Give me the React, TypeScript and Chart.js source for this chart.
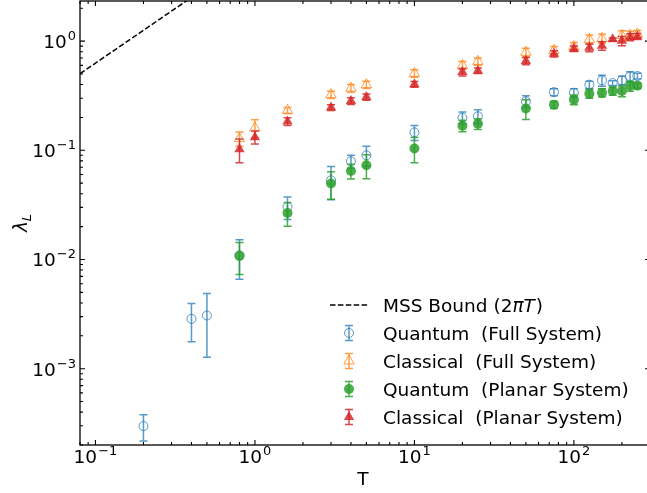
import React, { useEffect, useRef } from "react";
import { Chart, registerables } from "chart.js";

Chart.register(...registerables);

// ---------------- data ----------------
const tQuantumFull = [0.2, 0.4, 0.5, 0.8, 1.6, 3, 4, 5, 10, 20, 25, 50, 75, 100, 125, 150, 175, 200, 225, 250];
const quantumFull = [0.000298, 0.00286, 0.00307, 0.0109, 0.0303, 0.0532, 0.0793, 0.09, 0.146, 0.199, 0.205, 0.281, 0.341, 0.337, 0.399, 0.437, 0.413, 0.437, 0.475, 0.479];
const quantumFullErr = [0.00008, 0.0011, 0.0018, 0.0043, 0.007, 0.018, 0.011, 0.019, 0.023, 0.025, 0.03, 0.035, 0.025, 0.03, 0.03, 0.05, 0.02, 0.04, 0.05, 0.03];

const tClassicalFull = [0.8, 1, 1.6, 3, 4, 5, 10, 20, 25, 50, 75, 100, 125, 150, 200, 225, 250];
const classicalFull = [0.128, 0.16, 0.232, 0.323, 0.371, 0.399, 0.506, 0.6, 0.652, 0.79, 0.822, 0.89, 1.036, 1.055, 1.125, 1.13, 1.16];
const classicalFullErr = [0.019, 0.03, 0.015, 0.025, 0.03, 0.03, 0.04, 0.05, 0.05, 0.07, 0.07, 0.08, 0.1, 0.1, 0.12, 0.1, 0.09];

const tQuantumPlanar = [0.8, 1.6, 3, 4, 5, 10, 20, 25, 50, 75, 100, 125, 150, 175, 200, 225, 250];
const quantumPlanar = [0.0108, 0.0267, 0.0496, 0.0647, 0.0729, 0.104, 0.168, 0.175, 0.241, 0.262, 0.291, 0.33, 0.337, 0.349, 0.349, 0.388, 0.391];
const quantumPlanarErr = [0.0035, 0.0065, 0.014, 0.01, 0.018, 0.027, 0.02, 0.02, 0.05, 0.02, 0.03, 0.03, 0.03, 0.03, 0.04, 0.04, 0.02];

const tClassicalPlanar = [0.8, 1, 1.6, 3, 4, 5, 10, 20, 25, 50, 75, 100, 125, 150, 175, 200, 225, 250];
const classicalPlanar = [0.102, 0.132, 0.184, 0.246, 0.283, 0.307, 0.402, 0.52, 0.536, 0.656, 0.767, 0.852, 0.87, 0.905, 1.04, 1.005, 1.09, 1.105];
const classicalPlanarErr = [0.025, 0.018, 0.015, 0.015, 0.02, 0.02, 0.025, 0.04, 0.03, 0.05, 0.05, 0.05, 0.07, 0.08, 0.03, 0.1, 0.08, 0.07];

// MSS bound lambda = 2*pi*T, endpoints
const mssT = [0.05, 1];
const mssLambda = [0.31416, 6.28319];

const seriesLabels = [
  "Quantum  (Full System)",
  "Classical  (Full System)",
  "Quantum  (Planar System)",
  "Classical  (Planar System)",
];

const xMin = 0.08;
const xMax = 300;
const yMin = 2.0e-4;
const yMax = 2.33;

const xDecades = [-2, -1, 0, 1, 2, 3];
const yDecades = [-4, -3, -2, -1, 0, 1];

// ---------------- styles ----------------
const FONT = "'DejaVu Sans', sans-serif";
const FS = 18.5;
const FSS = 13;
const BLUE = "rgba(31,119,180,0.75)";
const ORANGE = "rgba(255,127,14,0.75)";
const GREEN = "rgba(44,160,44,0.85)";
const RED = "rgba(214,39,40,0.85)";

const supMap: Record<string, string> = { "-": "\u2212" };

function drawPow(ctx: CanvasRenderingContext2D, exp: number, x: number, y: number, align: "center" | "right") {
  const expStr = String(exp).split("").map((c) => supMap[c] || c).join("");
  ctx.font = `${FS}px ${FONT}`;
  const wb = ctx.measureText("10").width;
  ctx.font = `${FSS}px ${FONT}`;
  const we = ctx.measureText(expStr).width;
  const total = wb + we + 1;
  const x0 = align === "center" ? x - total / 2 : x - total;
  ctx.textAlign = "left";
  ctx.textBaseline = "alphabetic";
  ctx.font = `${FS}px ${FONT}`;
  ctx.fillText("10", x0, y);
  ctx.font = `${FSS}px ${FONT}`;
  ctx.fillText(expStr, x0 + wb + 1, y - 8);
}

function drawErrHandle(ctx: CanvasRenderingContext2D, x: number, y: number, color: string, style: string, filled: boolean) {
  ctx.save();
  ctx.strokeStyle = color;
  ctx.fillStyle = color;
  ctx.lineWidth = 1.5;
  ctx.beginPath();
  ctx.moveTo(x, y - 7.5);
  ctx.lineTo(x, y + 7.5);
  ctx.moveTo(x - 4, y - 7.5);
  ctx.lineTo(x + 4, y - 7.5);
  ctx.moveTo(x - 4, y + 7.5);
  ctx.lineTo(x + 4, y + 7.5);
  ctx.stroke();
  ctx.beginPath();
  if (style === "circle") {
    ctx.arc(x, y, filled ? 5 : 4.5, 0, Math.PI * 2);
  } else {
    const r = 6;
    ctx.moveTo(x, y - r);
    ctx.lineTo(x + r * 0.866, y + r * 0.5);
    ctx.lineTo(x - r * 0.866, y + r * 0.5);
    ctx.closePath();
  }
  if (filled) ctx.fill();
  else {
    ctx.lineWidth = 1;
    ctx.stroke();
  }
  ctx.restore();
}

const errorBarPlugin = {
  id: "errorBars",
  beforeDatasetDraw(chart: any, args: any) {
    const ds = chart.data.datasets[args.index];
    if (!ds.errors) return;
    const ctx: CanvasRenderingContext2D = chart.ctx;
    const xs = chart.scales.x;
    const ys = chart.scales.y;
    const a = chart.chartArea;
    ctx.save();
    ctx.beginPath();
    ctx.rect(a.left, a.top, a.right - a.left, a.bottom - a.top);
    ctx.clip();
    ctx.strokeStyle = ds.errColor;
    ctx.lineWidth = 1.5;
    ds.data.forEach((p: any, i: number) => {
      const e = ds.errors[i];
      const x = xs.getPixelForValue(p.x);
      const yt = ys.getPixelForValue(p.y + e);
      const yb = ys.getPixelForValue(Math.max(p.y - e, 1e-9));
      ctx.beginPath();
      ctx.moveTo(x, yt);
      ctx.lineTo(x, yb);
      ctx.moveTo(x - 4, yt);
      ctx.lineTo(x + 4, yt);
      ctx.moveTo(x - 4, yb);
      ctx.lineTo(x + 4, yb);
      ctx.stroke();
    });
    ctx.restore();
  },
};

const axesPlugin = {
  id: "mplAxes",
  afterDraw(chart: any) {
    const ctx: CanvasRenderingContext2D = chart.ctx;
    const xs = chart.scales.x;
    const ys = chart.scales.y;
    const a = chart.chartArea;
    ctx.save();
    ctx.strokeStyle = "#000";
    ctx.fillStyle = "#000";
    ctx.lineWidth = 1.3;
    // spines
    ctx.strokeRect(a.left, a.top, a.right - a.left, a.bottom - a.top);
    // ticks
    ctx.lineWidth = 1.1;
    ctx.beginPath();
    xDecades.forEach((d) => {
      for (let m = 1; m <= 9; m++) {
        const v = m * Math.pow(10, d);
        if (v < xMin || v > xMax) continue;
        const px = xs.getPixelForValue(v);
        const len = m === 1 ? 5 : 3;
        ctx.moveTo(px, a.bottom);
        ctx.lineTo(px, a.bottom - len);
        ctx.moveTo(px, a.top);
        ctx.lineTo(px, a.top + len);
      }
    });
    yDecades.forEach((d) => {
      for (let m = 1; m <= 9; m++) {
        const v = m * Math.pow(10, d);
        if (v < yMin || v > yMax) continue;
        const py = ys.getPixelForValue(v);
        const len = m === 1 ? 5 : 3;
        ctx.moveTo(a.left, py);
        ctx.lineTo(a.left + len, py);
        ctx.moveTo(a.right, py);
        ctx.lineTo(a.right - len, py);
      }
    });
    ctx.stroke();
    // tick labels
    xDecades.forEach((d) => {
      const v = Math.pow(10, d);
      if (v < xMin || v > xMax) return;
      drawPow(ctx, d, xs.getPixelForValue(v), a.bottom + 18, "center");
    });
    yDecades.forEach((d) => {
      const v = Math.pow(10, d);
      if (v < yMin || v > yMax) return;
      drawPow(ctx, d, a.left - 4, ys.getPixelForValue(v) + 7, "right");
    });
    // axis titles
    ctx.font = `${FS}px ${FONT}`;
    ctx.textAlign = "center";
    ctx.textBaseline = "alphabetic";
    ctx.fillText("T", (a.left + 646) / 2, 485);
    ctx.save();
    ctx.translate(27, (a.top + a.bottom) / 2);
    ctx.rotate(-Math.PI / 2);
    ctx.font = `italic ${FS}px ${FONT}`;
    const wl = ctx.measureText("\u03bb").width;
    ctx.font = `italic ${FSS}px ${FONT}`;
    const ws = ctx.measureText("L").width;
    const x0 = -(wl + ws) / 2;
    ctx.textAlign = "left";
    ctx.font = `italic ${FS}px ${FONT}`;
    ctx.fillText("\u03bb", x0, 0);
    ctx.font = `italic ${FSS}px ${FONT}`;
    ctx.fillText("L", x0 + wl, 4);
    ctx.restore();

    // legend
    const lx = 349;
    const tx = 383;
    const rows = [305, 333, 361, 389, 417];
    ctx.save();
    ctx.strokeStyle = "#000";
    ctx.lineWidth = 1.5;
    ctx.setLineDash([5.5, 2.4]);
    ctx.beginPath();
    ctx.moveTo(330, rows[0]);
    ctx.lineTo(368, rows[0]);
    ctx.stroke();
    ctx.restore();
    drawErrHandle(ctx, lx, rows[1], BLUE, "circle", false);
    drawErrHandle(ctx, lx, rows[2], ORANGE, "triangle", false);
    drawErrHandle(ctx, lx, rows[3], GREEN, "circle", true);
    drawErrHandle(ctx, lx, rows[4], RED, "triangle", true);
    ctx.fillStyle = "#000";
    ctx.textAlign = "left";
    ctx.textBaseline = "alphabetic";
    let cx = tx;
    const base0 = rows[0] + 7;
    ctx.font = `${FS}px ${FONT}`;
    ctx.fillText("MSS Bound (2", cx, base0);
    cx += ctx.measureText("MSS Bound (2").width;
    ctx.font = `italic ${FS}px ${FONT}`;
    ctx.fillText("\u03c0T", cx, base0);
    cx += ctx.measureText("\u03c0T").width;
    ctx.font = `${FS}px ${FONT}`;
    ctx.fillText(")", cx + 1, base0);
    seriesLabels.forEach((lab, i) => {
      ctx.fillText(lab, tx, rows[i + 1] + 7);
    });
    ctx.restore();
  },
};

function pts(xs: number[], ys: number[]) {
  return xs.map((x, i) => ({ x, y: ys[i] }));
}

export default function App() {
  const ref = useRef<HTMLCanvasElement | null>(null);
  useEffect(() => {
    if (!ref.current) return;
    const chart = new Chart(ref.current, {
      type: "scatter",
      data: {
        datasets: [
          {
            label: "MSS Bound (2πT)",
            data: pts(mssT, mssLambda),
            showLine: true,
            borderColor: "#000",
            borderWidth: 1.5,
            borderDash: [5.5, 2.4],
            pointRadius: 0,
            order: 5,
          } as any,
          {
            label: seriesLabels[0],
            data: pts(tQuantumFull, quantumFull),
            errors: quantumFullErr,
            errColor: BLUE,
            pointStyle: "circle",
            pointRadius: 4.5,
            borderWidth: 1,
            borderColor: BLUE,
            backgroundColor: "rgba(0,0,0,0)",
            order: 4,
          } as any,
          {
            label: seriesLabels[1],
            data: pts(tClassicalFull, classicalFull),
            errors: classicalFullErr,
            errColor: ORANGE,
            pointStyle: "triangle",
            pointRadius: 6,
            borderWidth: 1,
            borderColor: ORANGE,
            backgroundColor: "rgba(0,0,0,0)",
            order: 3,
          } as any,
          {
            label: seriesLabels[2],
            data: pts(tQuantumPlanar, quantumPlanar),
            errors: quantumPlanarErr,
            errColor: GREEN,
            pointStyle: "circle",
            pointRadius: 5,
            borderWidth: 0,
            borderColor: GREEN,
            backgroundColor: GREEN,
            order: 2,
          } as any,
          {
            label: seriesLabels[3],
            data: pts(tClassicalPlanar, classicalPlanar),
            errors: classicalPlanarErr,
            errColor: RED,
            pointStyle: "triangle",
            pointRadius: 6,
            borderWidth: 0,
            borderColor: RED,
            backgroundColor: RED,
            order: 1,
          } as any,
        ],
      },
      options: {
        animation: false,
        responsive: false,
        maintainAspectRatio: false,
        events: [],
        layout: { autoPadding: false, padding: { left: 80, right: 10, top: 1, bottom: 48 } },
        plugins: { legend: { display: false }, tooltip: { enabled: false } },
        scales: {
          x: { type: "logarithmic", min: xMin, max: xMax, display: false },
          y: { type: "logarithmic", min: yMin, max: yMax, display: false },
        },
      },
      plugins: [errorBarPlugin, axesPlugin],
    });
    return () => chart.destroy();
  }, []);
  return (
    <div style={{ position: "absolute", left: 0, top: 0, width: 647, height: 493, overflow: "hidden", background: "#fff" }}>
      <canvas ref={ref} width={660} height={493} style={{ width: 660, height: 493, display: "block" }} />
    </div>
  );
}
